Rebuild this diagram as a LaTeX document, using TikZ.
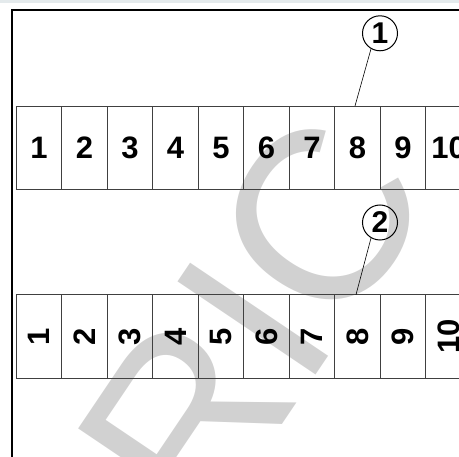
\documentclass[tikz,border=0pt]{standalone}
\usepackage{fontspec}
\setmainfont{Liberation Sans}
\usepackage{graphicx}
\usetikzlibrary{positioning}
\definecolor{stripgray}{RGB}{228,234,236}

\begin{document}
\begin{tikzpicture}[
    x=1pt, y=-1pt,
    node distance=0pt,
    cell/.style={rectangle, draw=black!75, line width=0.8pt, inner sep=0pt, outer sep=0pt,
                 minimum width=45.5pt, minimum height=83.5pt,
                 font=\fontsize{31}{31}\selectfont\bfseries},
    callout/.style={circle, draw=black, line width=1pt, inner sep=0pt, minimum size=35pt,
                    font=\fontsize{30}{30}\selectfont\bfseries},
    leader/.style={draw=black, line width=0.6pt},
    frameline/.style={draw=black, line width=2pt},
    wmark/.style={text=black!18, inner sep=0pt, font=\fontsize{242}{242}\selectfont},
]
\useasboundingbox (0,0) rectangle (459,457);
\clip (0,0) rectangle (459,457);

% strip above the frame
\fill[stripgray] (0,0) rectangle (459,2.7);

% watermark
\node[wmark, rotate=56, anchor=base west] (wm) at (205.4,538.9) {RIC};

% frame
\draw[frameline] (12,470) -- (12,9.8) -- (470,9.8);

% Upper row: upright numbers
\node[cell] (top1) at (39.05,147.7) {1};
\node[cell, right=of top1] (top2) {2};
\node[cell, right=of top2] (top3) {3};
\node[cell, right=of top3] (top4) {4};
\node[cell, right=of top4] (top5) {5};
\node[cell, right=of top5] (top6) {6};
\node[cell, right=of top6] (top7) {7};
\node[cell, right=of top7] (top8) {8};
\node[cell, right=of top8] (top9) {9};
\node[cell, right=of top9] (top10) {10};

% Lower row: numbers turned on their side
\node[cell, below=105.4pt of top1] (bot1) {\rotatebox{90}{1}};
\node[cell, right=of bot1] (bot2) {\rotatebox{90}{2}};
\node[cell, right=of bot2] (bot3) {\rotatebox{90}{3}};
\node[cell, right=of bot3] (bot4) {\rotatebox{90}{4}};
\node[cell, right=of bot4] (bot5) {\rotatebox{90}{5}};
\node[cell, right=of bot5] (bot6) {\rotatebox{90}{6}};
\node[cell, right=of bot6] (bot7) {\rotatebox{90}{7}};
\node[cell, right=of bot7] (bot8) {\rotatebox{90}{8}};
\node[cell, right=of bot8] (bot9) {\rotatebox{90}{9}};
\node[cell, right=of bot9] (bot10) {\rotatebox{90}{10}};

% Callouts
\node[callout] (c1) at (380,33.3) {1};
\coordinate (lead1) at (355,106);
\draw[leader] (c1.240) -- (lead1);

\node[callout] (c2) at (380,222.5) {2};
\coordinate (lead2) at (356,294.7);
\draw[leader] (c2.240) -- (lead2);

\end{tikzpicture}
\end{document}
